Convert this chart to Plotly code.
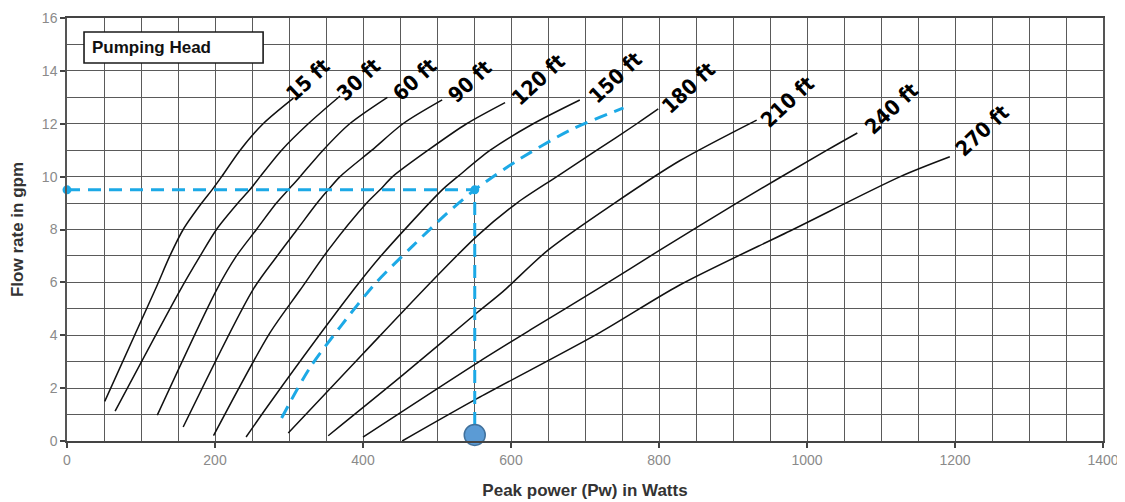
import plotly.graph_objects as go

# ---- data ----
head_labels = ["15 ft", "30 ft", "60 ft", "90 ft", "120 ft", "150 ft", "180 ft", "210 ft", "240 ft", "270 ft"]

h15_w = [51, 119, 139, 157, 182, 196, 209, 234, 265, 306]
h15_q = [1.5, 5.71, 7, 8, 9, 9.5, 10, 11, 12, 12.97]

h30_w = [65, 153, 180, 202, 231, 247, 261, 290, 326, 369]
h30_q = [1.13, 5.71, 7, 8, 9, 9.5, 10, 11, 12, 13.05]

h60_w = [122, 202, 229, 256, 283, 299, 315, 346, 382, 433]
h60_q = [0.98, 5.71, 7, 8, 9, 9.5, 10, 11, 12, 13.0]

h90_w = [157, 251, 284, 311, 338, 353, 369, 412, 454, 507]
h90_q = [0.53, 5.71, 7, 8, 9, 9.5, 10, 11, 12, 12.9]

h120_w = [198, 274, 315, 353, 405, 423, 440, 488, 540, 592]
h120_q = [0.2, 4.08, 5.71, 7.22, 9, 9.5, 10, 11, 12, 12.8]

h150_w = [242, 274, 387, 423, 507, 528, 572, 630, 693]
h150_q = [0.15, 1.43, 5.71, 6.96, 9.5, 10, 11, 12, 12.9]

h180_w = [299, 400, 495, 554, 608, 662, 716, 770, 799]
h180_q = [0.3, 3.3, 6.1, 7.75, 9, 10, 11, 12, 12.56]

h210_w = [353, 454, 554, 589, 650, 740, 828, 932]
h210_q = [0.2, 2.5, 4.85, 5.65, 7.22, 9, 10.6, 12.14]

h240_w = [400, 554, 626, 720, 800, 905, 1027, 1068]
h240_q = [0.15, 2.95, 4.2, 5.8, 7.2, 9, 11, 11.65]

h270_w = [453, 554, 720, 828, 981, 1126, 1193]
h270_q = [0, 1.6, 4.1, 5.9, 8, 10, 10.75]

# operating (pump) curve, dashed
op_w = [290, 328, 369, 418, 468, 513, 551, 608, 680, 752]
op_q = [0.87, 2.76, 4.31, 6.0, 7.4, 8.6, 9.5, 10.6, 11.76, 12.6]

# operating point
ref_w = 551
ref_q = 9.5
ref_q_bottom = 0.23

# label centres (data coords)
label_w = [326, 394, 470, 544, 637, 741, 840, 974, 1114, 1237]
label_q = [13.65, 13.65, 13.65, 13.58, 13.65, 13.73, 13.35, 12.82, 12.56, 11.72]

curves = [(h15_w, h15_q), (h30_w, h30_q), (h60_w, h60_q), (h90_w, h90_q),
          (h120_w, h120_q), (h150_w, h150_q), (h180_w, h180_q), (h210_w, h210_q),
          (h240_w, h240_q), (h270_w, h270_q)]

GRID = "#5a5a5a"
CYAN = "#1CA9E6"

fig = go.Figure()

for (w, q), name in zip(curves, head_labels):
    fig.add_trace(go.Scatter(x=w, y=q, mode="lines", name=name,
                             line=dict(color="#111111", width=1.5, shape="spline", smoothing=0.8),
                             showlegend=False, hoverinfo="skip"))

fig.add_trace(go.Scatter(x=op_w, y=op_q, mode="lines",
                         line=dict(color=CYAN, width=3, dash="13px,8px", shape="spline", smoothing=0.8),
                         showlegend=False, hoverinfo="skip"))

fig.add_trace(go.Scatter(x=[0, ref_w, ref_w], y=[ref_q, ref_q, ref_q_bottom + 0.4], mode="lines",
                         line=dict(color=CYAN, width=3, dash="13px,8px"),
                         showlegend=False, hoverinfo="skip", cliponaxis=False))

fig.add_trace(go.Scatter(x=[0, ref_w], y=[ref_q, ref_q], mode="markers",
                         marker=dict(color=CYAN, size=9),
                         showlegend=False, hoverinfo="skip", cliponaxis=False))

fig.add_trace(go.Scatter(x=[ref_w], y=[ref_q_bottom], mode="markers",
                         marker=dict(color="#5B9BD5", size=21, line=dict(color="#41719C", width=1.5)),
                         showlegend=False, hoverinfo="skip", cliponaxis=False))

LABEL_FONT = "Liberation Sans Narrow, Arial Narrow, DejaVu Sans Condensed, Liberation Sans"
for lw, lq, txt in zip(label_w, label_q, head_labels):
    fig.add_annotation(x=lw, y=lq, text="<b>" + txt + "</b>", showarrow=False,
                       textangle=-43, xanchor="center", yanchor="middle",
                       font=dict(family=LABEL_FONT, size=21, color="#000000"))

# "Pumping Head" box
fig.add_shape(type="rect", xref="x", yref="y", x0=23, x1=265, y0=14.3, y1=15.47,
              line=dict(color="#1a1a1a", width=1.6), fillcolor="white", layer="above")
fig.add_annotation(x=31, y=14.9, xref="x", yref="y", text="<b>Pumping Head</b>", showarrow=False,
                   xanchor="left", yanchor="middle",
                   font=dict(family="Liberation Sans, Arial", size=17, color="#111111"))

# page body has an 8px default margin, so the figure is sized/margined to compensate
fig.update_layout(
    width=1117, height=494,
    margin=dict(l=59, r=22, t=10, b=61),
    paper_bgcolor="white", plot_bgcolor="white",
    font=dict(family="Liberation Sans, Arial", color="#808080"),
    xaxis=dict(range=[0, 1400], tick0=0, dtick=200, showgrid=True, gridcolor=GRID, gridwidth=1.4,
               minor=dict(dtick=50, showgrid=True, gridcolor=GRID, gridwidth=1.4),
               zeroline=False, showline=True, linecolor="#444444", linewidth=2, mirror=True,
               ticks="outside", ticklen=5, tickcolor="#444444", tickwidth=1.5,
               tickfont=dict(size=14, color="#8a8a8a"), automargin=False,
               title=dict(text="<b>Peak power (Pw) in Watts</b>", standoff=17,
                          font=dict(size=17, color="#333333"))),
    yaxis=dict(range=[0, 16], tick0=0, dtick=2, showgrid=True, gridcolor=GRID, gridwidth=1.4,
               minor=dict(dtick=1, showgrid=True, gridcolor=GRID, gridwidth=1.4),
               zeroline=False, showline=True, linecolor="#555555", linewidth=1.5, mirror=True,
               ticks="outside", ticklen=5, tickcolor="#444444", tickwidth=1.5,
               tickfont=dict(size=14, color="#8a8a8a"), automargin=False,
               title=dict(text="<b>Flow rate in gpm</b>", standoff=14,
                          font=dict(size=17, color="#333333"))),
)

fig.write_html("out.html")
